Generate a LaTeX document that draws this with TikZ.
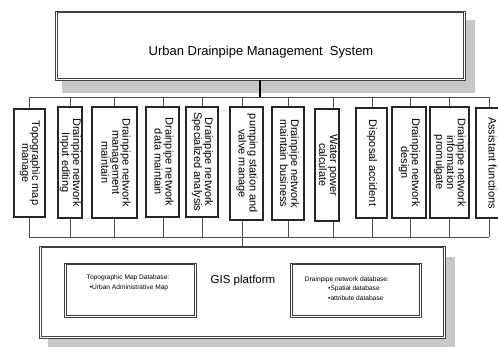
\documentclass[tikz,border=0pt]{standalone}
\usepackage{fontspec}
\setmainfont{Liberation Sans}
\usetikzlibrary{fit}
% module label set top-to-bottom
\newcommand\vtext[1]{\rotatebox{-90}{\fontsize{11}{10}\selectfont\begin{tabular}{@{}c@{}}#1\end{tabular}}}
% second, inner outline of a framed box
\newcommand\innerframe[1]{\draw[frameline] ([xshift=2.2pt,yshift=-2.2pt]#1.north west) rectangle ([xshift=-2.2pt,yshift=2.2pt]#1.south east);}
\begin{document}
\begin{tikzpicture}[x=1pt,y=-1pt,
  bus/.style={draw=black!70, line width=0.8pt},
  trunk/.style={draw=black, line width=1.2pt},
  modbox/.style={draw=black!85, line width=1.4pt, fill=white, inner sep=0pt},
  frameline/.style={draw=black!75, line width=0.7pt},
  framebox/.style={frameline, fill=white, inner sep=0pt},
  shadowfill/.style={fill=black!22},
  small/.style={font=\fontsize{6.6}{7}\selectfont, inner sep=0pt},
]
\useasboundingbox (0,0) rectangle (498,347);

% system box with drop shadow
\fill[shadowfill] (62,20) rectangle (475,93);
\node[framebox, fit={(55,11) (465,80)}] (sys) {};
\innerframe{sys}
\node[font=\fontsize{13}{15}\selectfont] (title) at (261,52) {Urban Drainpipe Management\ \ System};

% bus lines
\coordinate (tl) at (29,97);
\coordinate (tr) at (489,97);
\coordinate (bl) at (29,237);
\coordinate (br) at (489,237);
\draw[trunk] (sys.south -| 260,0) -- (260,97);
\draw[bus] (tl) -- (tr);
\draw[bus] (bl) -- (br);

% function modules
\foreach \i/\xa/\xb/\ya/\yb/\dx/\txt in {
  1/14/45/109/217/29/{Topographic map\\manage},
  2/58/82/107/218/70/{Drainpipe network\\Input editing},
  3/92/137/107/218/114/{Drainpipe network\\management\\maintain},
  4/146/179/107/217/163/{Drainpipe network\\data maintain},
  5/186/218/107/217/202/{Drainpipe network\\Specialized analysis},
  6/230/263/107/220/242/{pumping station and\\valve manage},
  7/272/304/107/220/288/{Drainpipe network\\maintain business},
  8/315/339/109/221/333/{Water power\\calculate},
  9/356/387/108/218/372/{Disposal accident},
  10/392/426/107/218/410/{Drainpipe network\\design},
  11/430/469/107/218/449/{Drainpipe network\\information\\promulgate},
  12/476/506/108/218/489/{Assistant functions}}
{
  \draw[bus] (\dx,97) -- (\dx,112);
  \draw[bus] (\dx,214) -- (\dx,237);
  \node[modbox, fit={(\xa,\ya) (\xb,\yb)}] (m\i) {\vtext{\txt}};
}

% GIS platform with drop shadow
\fill[shadowfill] (48,257) rectangle (455,352);
\node[framebox, fit={(39,246) (445,338)}] (gis) {};
\innerframe{gis}
\draw[bus] (242,237) -- (gis.north -| 242,0);
\node[font=\fontsize{11.5}{13}\selectfont] (gistext) at (243,281) {GIS platform};

\node[framebox, fit={(64,263) (196,317)}] (topo) {};
\innerframe{topo}
\node[small] (topo1) at (128,278) {Topographic Map Database:};
\node[small] (topo2) at (129,288) {•Urban Administrative Map};

\node[framebox, fit={(290,263) (421,317)}] (drain) {};
\innerframe{drain}
\node[small] (drain1) at (347,280) {Drainpipe network database:};
\node[small, anchor=west] (drain2) at (328,289) {•Spatial database};
\node[small, anchor=west] (drain3) at (328,298) {•attribute database};
\end{tikzpicture}
\end{document}
